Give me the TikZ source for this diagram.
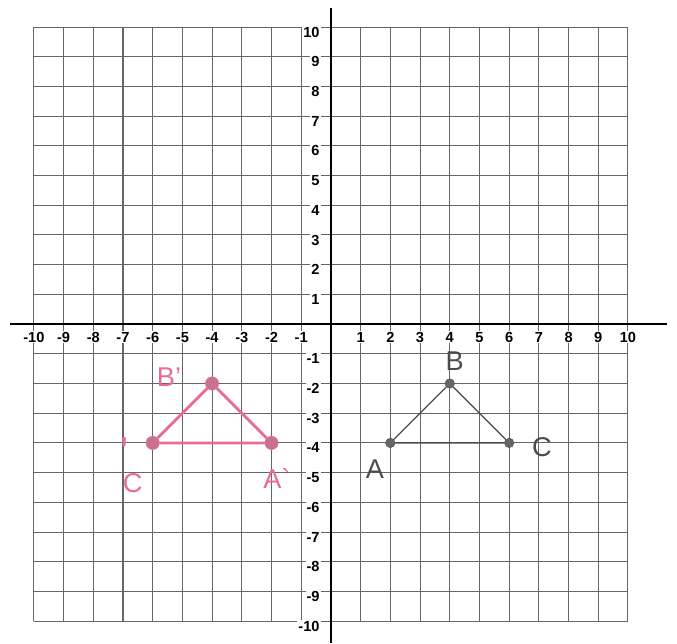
\documentclass[tikz,border=0pt]{standalone}
\usepackage{fontspec}
\setmainfont{Liberation Sans}
\definecolor{pinkpen}{RGB}{232,108,150}
\definecolor{pencil}{RGB}{75,75,75}
\begin{document}
\begin{tikzpicture}
    \tikzstyle{gridline}=[black!60, line width=1pt];
    \tikzstyle{axis}=[black, line width=2.6pt];
    \tikzstyle{num}=[font=\fontsize{14}{16}\selectfont\bfseries, inner sep=1pt, fill=white];
    \tikzstyle{pinkdot}=[circle, fill=pinkpen!70!gray, draw=pinkpen, minimum size=0.45cm, inner sep=0pt];
    \tikzstyle{graydot}=[circle, fill=black!60, draw=pencil, minimum size=0.32cm, inner sep=0pt];
    \tikzstyle{pinkhand}=[pinkpen, font=\fontsize{26}{28}\selectfont, inner sep=0pt];
    \tikzstyle{grayhand}=[pencil, font=\fontsize{26}{28}\selectfont, inner sep=0pt];
    \useasboundingbox (-11.14,-10.74) rectangle (11.65,10.91);
    \fill[white] (-11.14,-10.74) rectangle (11.65,10.91);
    \draw[gridline] (-10,-10) grid (10,10);
    \draw[axis] (-10.8,0) -- (11.3,0);
    \draw[axis] (0,10.64) -- (0,-10.74);
    \foreach \x in {-10,...,-1,1,2,...,10}
        \node[num] (xl\x) at (\x,-0.44) {\x};
    \foreach \y in {-10,...,-1,1,2,...,10}
        \node[num, anchor=east] (yl\y) at (-0.34,\y-0.17) {\y};
    \node[pinkdot] (Ap) at (-2,-4) {};
    \node[pinkdot] (Bp) at (-4,-2) {};
    \node[pinkdot] (Cp) at (-6,-4) {};
    \draw[pinkpen, line width=2.6pt] (Ap) -- (Bp) -- (Cp) -- (Ap);
    \node[pinkhand] (lAp) at (-1.82,-5.2) {A\textasciigrave};
    \node[pinkhand] (lBp) at (-5.45,-1.8) {B'};
    \node[pinkhand] (lCp) at (-6.67,-5.35) {C};
    \node[pinkhand, font=\fontsize{40}{40}\selectfont, anchor=south] (lCq) at (-6.94,-4.8) {\textquotesingle};
    \node[graydot] (A) at (2,-4) {};
    \node[graydot] (B) at (4,-2) {};
    \node[graydot] (C) at (6,-4) {};
    \draw[pencil, line width=1.3pt] (A) -- (B) -- (C) -- (A);
    \node[grayhand] (lA) at (1.48,-4.9) {A};
    \node[grayhand] (lB) at (4.17,-1.25) {B};
    \node[grayhand] (lC) at (7.1,-4.15) {C};
\end{tikzpicture}
\end{document}
